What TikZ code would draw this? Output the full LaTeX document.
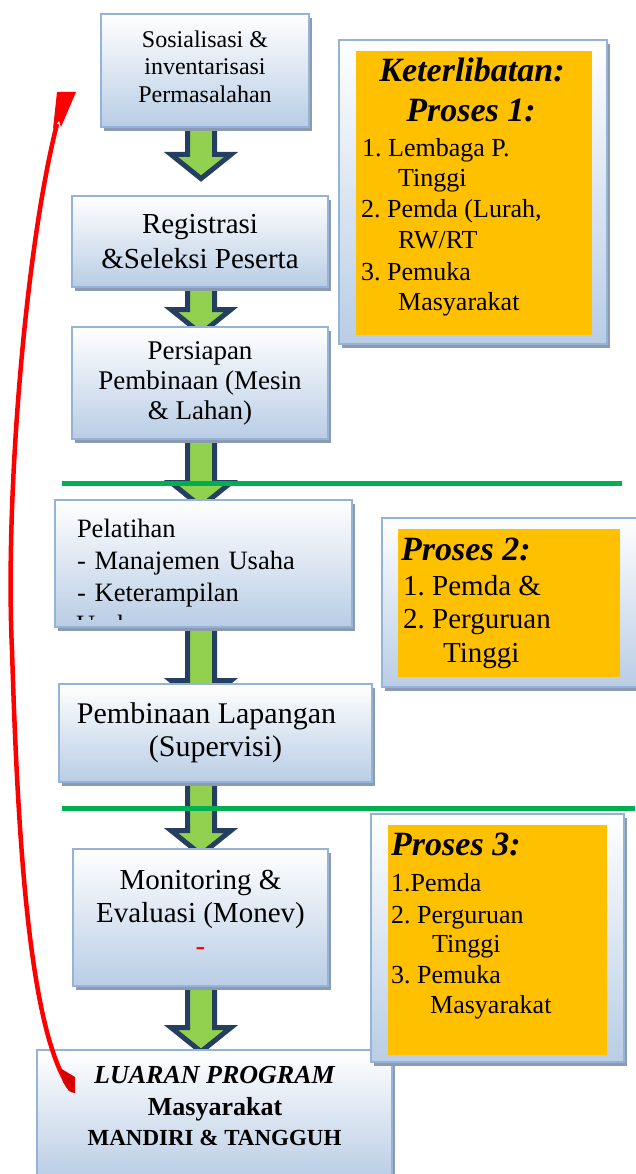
\documentclass[tikz,border=0pt]{standalone}
\usepackage{fontspec}
\setmainfont{Liberation Serif}
\usetikzlibrary{calc,shadows,backgrounds}
\frenchspacing
\definecolor{boxborder}{RGB}{149,179,215}
\definecolor{boxbottom}{RGB}{185,205,229}
\definecolor{shadowgray}{RGB}{140,155,177}
\definecolor{procorange}{RGB}{255,192,0}
\definecolor{arrgreen}{RGB}{146,208,80}
\definecolor{arrnavy}{RGB}{36,63,96}
\definecolor{linegreen}{RGB}{0,176,80}
\definecolor{darkred}{RGB}{215,0,0}
\newcommand\fsA{\fontsize{24}{27.5}\selectfont}
\newcommand\fsB{\fontsize{29}{35}\selectfont}
\newcommand\fsC{\fontsize{27}{30}\selectfont}
\newcommand\fsD{\fontsize{26.5}{32}\selectfont}
\newcommand\fsE{\fontsize{30}{33}\selectfont}
\newcommand\fsF{\fontsize{29}{33}\selectfont}
% block arrow: #1 from node, #2 to node, #3 gap (px) from head base to top of #2
\newcommand\barrow[3]{%
  \path let \p1=(#1.south), \p2=(#2.north) in
    [blockarr] (187.5pt,{\y1+5pt}) -- (187.5pt,{\y2+#3pt-2.5pt})
    -- (171pt,{\y2+#3pt-2.5pt}) -- (201pt,{\y2+#3pt-26.6pt})
    -- (231pt,{\y2+#3pt-2.5pt}) -- (214.5pt,{\y2+#3pt-2.5pt})
    -- (214.5pt,{\y1+5pt}) -- cycle;}
\tikzset{
  flowbox/.style={draw=boxborder, line width=2pt, top color=white,
    bottom color=boxbottom, inner sep=0pt, align=center,
    drop shadow={shadow xshift=3pt, shadow yshift=-4pt, fill=shadowgray, opacity=1}},
  orangebox/.style={fill=procorange, draw=none, inner sep=0pt},
  blockarr/.style={fill=arrgreen, draw=arrnavy, line width=5pt, line join=miter},
  sepline/.style={draw=linegreen, line width=5pt},
  redarr/.style={draw=red, line width=4.5pt},
  hdr/.style={inner sep=0pt, font=\fontsize{34}{39}\selectfont\bfseries\itshape},
  lstA/.style={inner sep=0pt, anchor=base west, font=\fontsize{26}{30}\selectfont},
  lstB/.style={inner sep=0pt, anchor=base west, font=\fontsize{29}{33}\selectfont},
  outtxt/.style={inner sep=0pt, anchor=base, font=\bfseries}
}
\begin{document}
\begin{tikzpicture}[x=1pt,y=-1pt]
\useasboundingbox (0,0) rectangle (635,1174);

% left column boxes
\node[flowbox, minimum width=208pt, minimum height=113pt, font=\fsA] (b1) at (205,70.5)
  {Sosialisasi \&\\inventarisasi\\Permasalahan\strut};
\node[flowbox, minimum width=256pt, minimum height=91pt, font=\fsB] (b2) at (200,241.5)
  {Registrasi\\\&Seleksi Peserta};
\node[flowbox, minimum width=256pt, minimum height=112pt, font=\fsC] (b3) at (200,383)
  {Persiapan\\Pembinaan (Mesin\\\& Lahan)};
\node[flowbox, minimum width=297pt, minimum height=127pt, text width=253pt,
  inner xsep=22pt, align=left, font=\fsD] (b4) at (203.5,563.5)
  {Pelatihan\\- Manajemen Usaha\\- Keterampilan};
\begin{scope}
  \clip (60,610) rectangle (350,619.5);
  \node[inner sep=0pt, anchor=base west, font=\fsD] (b4cut) at (76,633.6) {Usaha};
\end{scope}
\node[flowbox, minimum width=313pt, minimum height=98pt, font=\fsE] (b5) at (215.5,733)
  {Pembinaan Lapangan\hspace*{18pt}\\(Supervisi)};
\node[flowbox, minimum width=255pt, minimum height=137pt, font=\fsF] (b6) at (200.5,917.5)
  {Monitoring \&\\Evaluasi (Monev)\\{\color{red}-}\strut};
\node[flowbox, minimum width=355pt, minimum height=129pt] (b7) at (214.5,1114.5) {};
\node[outtxt, font=\fontsize{26}{30}\selectfont\bfseries\itshape] (b7a) at (214.5,1083) {LUARAN PROGRAM};
\node[outtxt, font=\fontsize{26}{30}\selectfont\bfseries] (b7b) at (215,1115) {Masyarakat};
\node[outtxt, font=\fontsize{23}{30}\selectfont\bfseries] (b7c) at (214.5,1145) {MANDIRI \& TANGGUH};

% right column: Proses 1
\node[flowbox, minimum width=268pt, minimum height=304pt] (r1) at (473,192) {};
\node[orangebox, minimum width=236pt, minimum height=284pt] (r1o) at (474,193) {};
\node[hdr, anchor=base] (r1h1) at (472,82) {Keterlibatan:};
\node[hdr, anchor=base] (r1h2) at (471,122) {Proses 1:};
\node[lstA] (r1l1) at (362,157) {1. Lembaga P.};
\node[lstA] (r1l2) at (398,187) {Tinggi};
\node[lstA] (r1l3) at (361,218) {2. Pemda (Lurah,};
\node[lstA] (r1l4) at (398,248) {RW/RT};
\node[lstA] (r1l5) at (361,280) {3. Pemuka};
\node[lstA] (r1l6) at (398,310) {Masyarakat};

% Proses 2
\node[flowbox, minimum width=262pt, minimum height=169pt] (r2) at (513,602.5) {};
\node[orangebox, minimum width=222pt, minimum height=148pt] (r2o) at (509,603) {};
\node[hdr, anchor=base west] (r2h) at (401,560) {Proses 2:};
\node[lstB] (r2l1) at (403,595) {1. Pemda \&};
\node[lstB] (r2l2) at (403,628) {2. Perguruan};
\node[lstB] (r2l3) at (443,662) {Tinggi};

% Proses 3
\node[flowbox, minimum width=253pt, minimum height=248pt] (r3) at (497.5,938) {};
\node[orangebox, minimum width=219pt, minimum height=230pt] (r3o) at (497.5,940) {};
\node[hdr, anchor=base west] (r3h) at (391,855) {Proses 3:};
\node[lstA] (r3l1) at (391,891) {1.Pemda};
\node[lstA] (r3l2) at (391,923) {2. Perguruan};
\node[lstA] (r3l3) at (432,952) {Tinggi};
\node[lstA] (r3l4) at (391,983) {3. Pemuka};
\node[lstA] (r3l5) at (430,1013) {Masyarakat};

% block arrows between boxes
\begin{pgfonlayer}{background}
  \barrow{b1}{b2}{43}
  \barrow{b2}{b3}{19}
  \barrow{b3}{b4}{19}
  \barrow{b4}{b5}{5}
  \barrow{b5}{b6}{20}
  \barrow{b6}{b7}{24}
\end{pgfonlayer}

% green separator lines
\coordinate (g1a) at (62,483);
\coordinate (g1b) at (622,483);
\coordinate (g2a) at (62,808);
\coordinate (g2b) at (635,808);
\draw[sepline] (g1a) -- (g1b);
\draw[sepline] (g2a) -- (g2b);

% red feedback arrow from output back to start
\coordinate (rhead) at (57,124);
\coordinate (rmid) at (12,650);
\coordinate (rtail) at (66,1082);
\draw[redarr] (rhead) .. controls (25,250) and (5,500) .. (rmid)
  .. controls (18,850) and (30,1020) .. (rtail);
\fill[red] (57,92) -- (76,92) -- (61,127) -- (59,121) -- (53,129) -- cycle;
\fill[darkred] (60,1068) -- (75,1077) -- (75,1093) .. controls (69,1092) .. (63,1082) -- cycle;
\end{tikzpicture}
\end{document}
